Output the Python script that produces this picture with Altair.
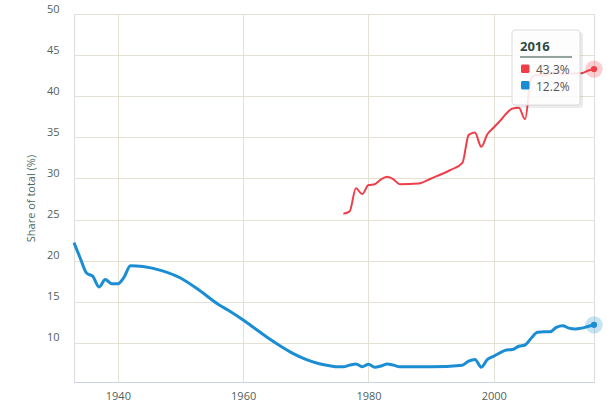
import altair as alt
import pandas as pd

blue_years = [1933, 1934, 1935, 1936, 1937, 1938, 1939, 1940, 1941, 1942, 1944, 1947, 1950, 1953,
              1956, 1958, 1960, 1962, 1964, 1966, 1968, 1970, 1972, 1974, 1975, 1976, 1977, 1978,
              1979, 1980, 1981, 1982, 1983, 1984, 1985, 1990, 1995, 1996, 1997, 1998, 1999, 2000,
              2001, 2002, 2003, 2004, 2005, 2006, 2007, 2008, 2009, 2010, 2011, 2012, 2013, 2014,
              2015, 2016]
blue_values = [22.2, 20.3, 18.5, 18.1, 16.8, 17.7, 17.2, 17.2, 18.0, 19.4, 19.3, 18.8, 17.9, 16.4,
               14.7, 13.8, 12.8, 11.7, 10.6, 9.6, 8.7, 8.0, 7.5, 7.2, 7.1, 7.1, 7.3, 7.45,
               7.1, 7.4, 7.05, 7.2, 7.45, 7.3, 7.1, 7.1, 7.3, 7.8, 8.0, 7.05, 8.0, 8.4,
               8.8, 9.15, 9.2, 9.6, 9.75, 10.6, 11.3, 11.35, 11.35, 11.9, 12.1, 11.8, 11.7, 11.8,
               12.0, 12.2]

red_years = [1976, 1977, 1978, 1979, 1980, 1981, 1982, 1983, 1984, 1985, 1988, 1990, 1993, 1995,
             1996, 1997, 1998, 1999, 2000, 2001, 2002, 2003, 2004, 2005, 2006, 2007, 2008, 2009,
             2010, 2011, 2012, 2013, 2014, 2015, 2016]
red_values = [25.7, 26.0, 28.8, 28.1, 29.2, 29.3, 29.9, 30.2, 29.9, 29.3, 29.4, 30.0, 31.0, 31.9,
              35.3, 35.6, 33.85, 35.4, 36.2, 37.0, 37.9, 38.5, 38.6, 37.2, 42.3, 42.6, 42.5, 42.7,
              42.9, 42.7, 42.7, 42.8, 42.8, 43.1, 43.3]

x_ticks = [1940, 1960, 1980, 2000]
y_ticks = [10, 15, 20, 25, 30, 35, 40, 45, 50]

tip_year = ["2016"]
tip_red = ["43.3%"]
tip_blue = ["12.2%"]

RED = "#ef3e4a"
BLUE = "#1b8ed3"
GRID = "#e4e0d2"
LABEL = "#4f625d"

df = pd.concat([
    pd.DataFrame({"year": blue_years, "value": blue_values, "series": "blue"}),
    pd.DataFrame({"year": red_years, "value": red_values, "series": "red"}),
])
tip = pd.DataFrame({"year": tip_year, "red": tip_red, "blue": tip_blue})

x = alt.X("year:Q", scale=alt.Scale(domain=[1933, 2016], nice=False, zero=False),
          axis=alt.Axis(values=x_ticks, format="d", title=None, ticks=False, grid=True,
                        gridColor=GRID, domainColor="#c8d4ea", labelPadding=8,
                        labelColor=LABEL, labelFontSize=11, labelFont="Open Sans"))
y = alt.Y("value:Q", scale=alt.Scale(domain=[5.25, 50], nice=False, zero=False),
          axis=alt.Axis(values=y_ticks, title="Share of total (%)", ticks=False, domain=False,
                        grid=True, gridColor=GRID, labelPadding=15, labelOffset=-5,
                        labelColor=LABEL, labelFontSize=11, labelFont="Open Sans",
                        titleColor="#4b6a62", titleFontSize=11, titleFontWeight="normal",
                        titleFont="Open Sans", titlePadding=10))

color = alt.Color("series:N", scale=alt.Scale(domain=["red", "blue"], range=[RED, BLUE]), legend=None)

base = alt.Chart(df)

blue_line = base.transform_filter(alt.datum.series == "blue").mark_line(
    strokeWidth=3, interpolate="monotone", color=BLUE).encode(x=x, y=y)
red_line = base.transform_filter(alt.datum.series == "red").mark_line(
    strokeWidth=2, interpolate="monotone", color=RED).encode(x=x, y=y)

last = base.transform_filter(alt.datum.year == 2016)
halo = last.mark_circle(size=300, opacity=0.25).encode(x="year:Q", y="value:Q", color=color)
dot = last.mark_circle(size=40, opacity=1).encode(x="year:Q", y="value:Q", color=color)

# tooltip box (annotation), one row of data
t = alt.Chart(tip)
shadow = t.mark_rect(color="#000000", opacity=0.08, cornerRadius=3).encode(
    x=alt.value(440), x2=alt.value(509), y=alt.value(18), y2=alt.value(94))
box = t.mark_rect(fill="#ffffff", fillOpacity=0.88, stroke="#dadada",
                  strokeWidth=1, cornerRadius=3).encode(
    x=alt.value(438), x2=alt.value(506), y=alt.value(16), y2=alt.value(91))
tip_title = t.mark_text(fontWeight="bold", fontSize=13, color="#2e4a43",
                        align="left", baseline="alphabetic", font="Open Sans").encode(
    x=alt.value(446), y=alt.value(37), text="year:N")
underline = t.mark_rule(color="#2e4a43", strokeWidth=1.2).encode(
    x=alt.value(446), x2=alt.value(498), y=alt.value(43))
sq_red = t.mark_rect(fill=RED, cornerRadius=1.5).encode(
    x=alt.value(447), x2=alt.value(455.5), y=alt.value(50.5), y2=alt.value(59))
sq_blue = t.mark_rect(fill=BLUE, cornerRadius=1.5).encode(
    x=alt.value(447), x2=alt.value(455.5), y=alt.value(67), y2=alt.value(75.5))
txt_red = t.mark_text(fontSize=12, color="#555555", align="left",
                      baseline="middle", font="Open Sans").encode(
    x=alt.value(462), y=alt.value(56), text="red:N")
txt_blue = t.mark_text(fontSize=12, color="#555555", align="left",
                       baseline="middle", font="Open Sans").encode(
    x=alt.value(462), y=alt.value(73), text="blue:N")

chart = alt.layer(
    blue_line, red_line, halo, dot, shadow, box, tip_title, underline, sq_red, sq_blue, txt_red, txt_blue
).properties(
    width=520, height=368,
    autosize=alt.AutoSizeParams(type="none"),
    padding={"left": 74, "top": 14, "right": 19, "bottom": 25},
).configure_view(stroke=GRID, strokeWidth=1).configure(background="#ffffff")

chart.save("out.html", embed_options={"renderer": "svg", "actions": False})
